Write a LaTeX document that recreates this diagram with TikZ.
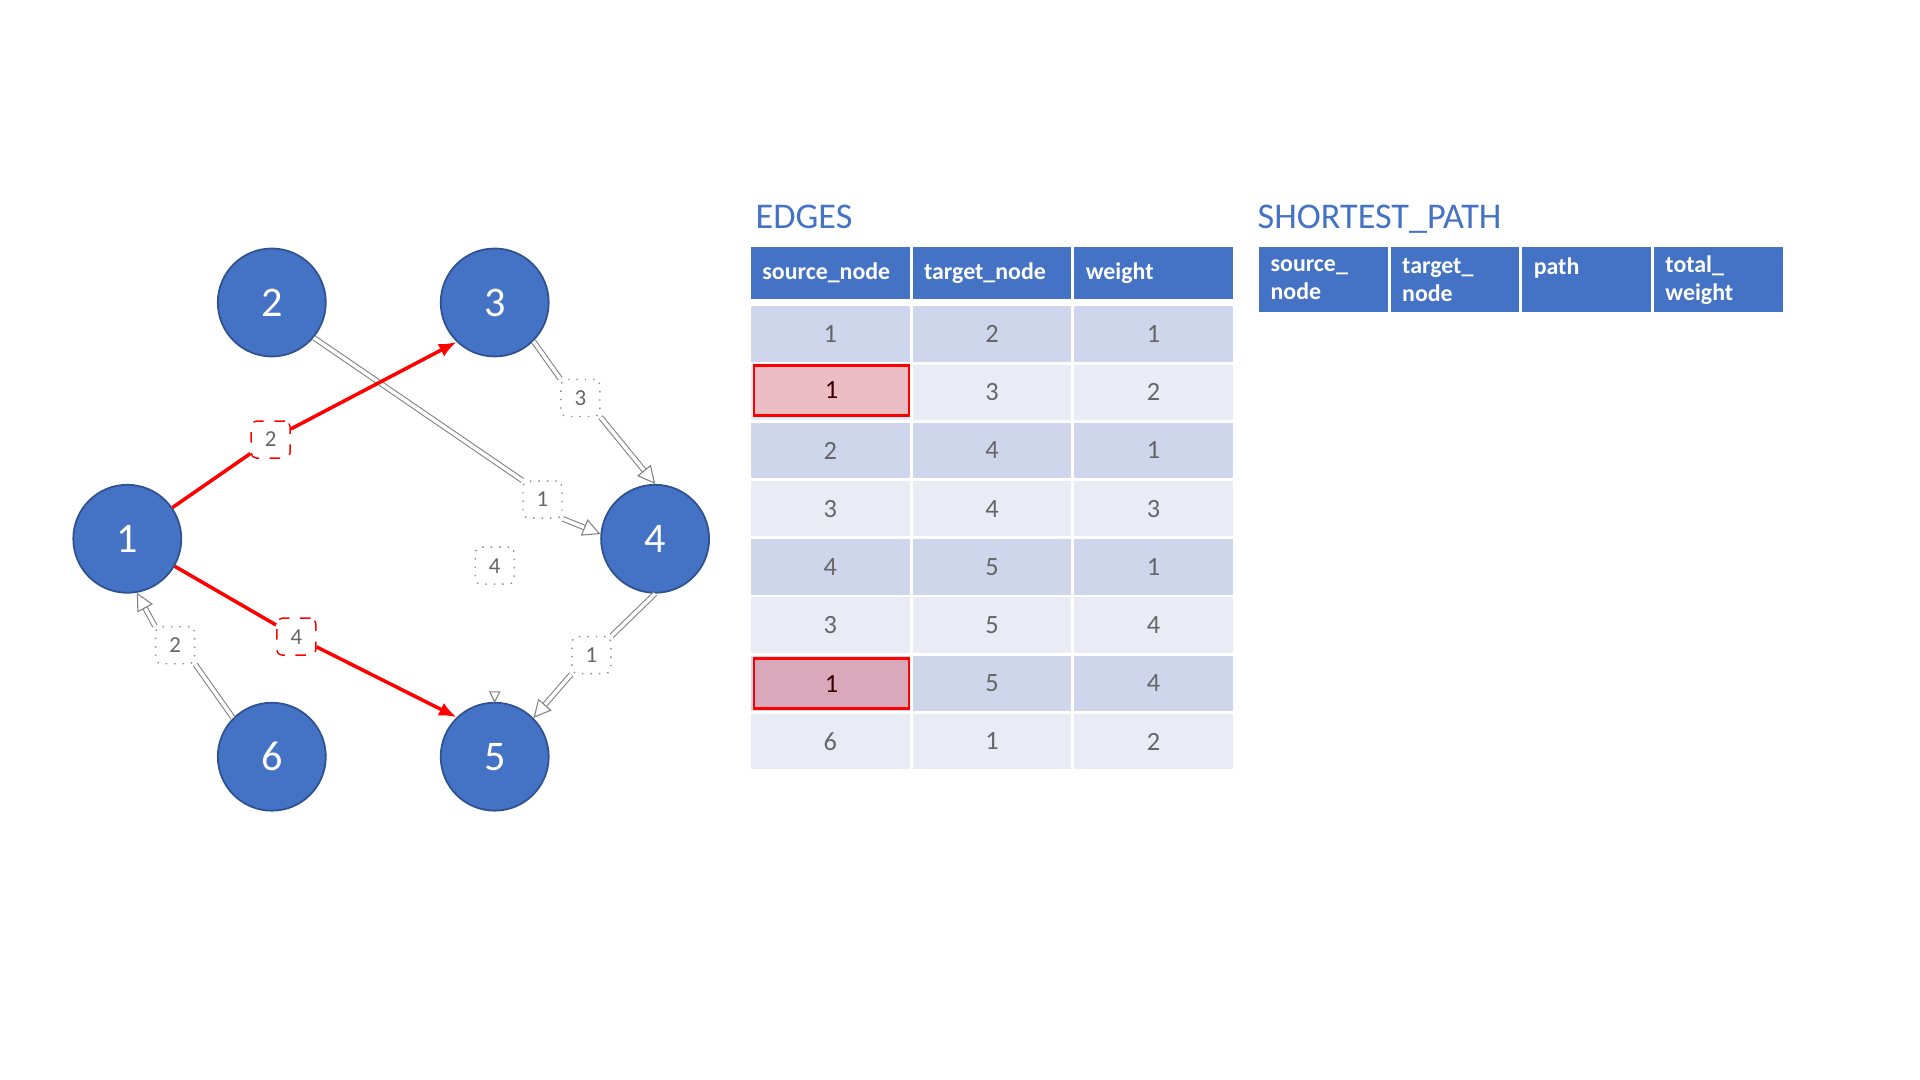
\documentclass[tikz,border=0pt]{standalone}
\usepackage{fontspec}
\setmainfont{Carlito}
\usetikzlibrary{arrows.meta}

\definecolor{nodeblue}{HTML}{4472C4}
\definecolor{nodeedge}{HTML}{2F528F}
\definecolor{rowdark}{HTML}{CFD5EA}
\definecolor{rowlight}{HTML}{E9EBF5}
\definecolor{pickpink}{HTML}{EDBDC5}
\definecolor{pickrose}{HTML}{D9A9BB}
\definecolor{picktext}{HTML}{3C0000}

\tikzset{
  vertex/.style={circle, fill=nodeblue, draw=nodeedge, line width=0.5pt,
    minimum size=1.08cm, inner sep=0pt, text=white,
    font=\fontsize{12}{14}\selectfont},
  redlbl/.style={draw=red, dashed, rounded corners=1.5pt, fill=white,
    minimum width=0.39cm, minimum height=0.37cm, inner sep=0pt,
    text=black!60, font=\fontsize{6.5}{7}\selectfont},
  greylbl/.style={redlbl, draw=black!45, dotted},
  redpath/.style={red, line width=1pt, -{Latex[length=5pt,width=4pt]}},
  ghost/.style={draw=black!50, double=white, double distance=1pt,
    line width=0.3pt, -{Triangle[open,length=5pt,width=5pt]}},
  cell/.style={draw=white, line width=0.8pt, minimum width=1.617cm,
    minimum height=0.582cm, inner sep=0pt, text=black!60,
    font=\fontsize{7.5}{9}\selectfont},
  oddrow/.style={cell, fill=rowdark},
  evenrow/.style={cell, fill=rowlight},
  headcell/.style={draw=white, line width=0.8pt, fill=nodeblue, text=white,
    font=\bfseries\fontsize{6.8}{8}\selectfont, text width=1.357cm,
    inner xsep=0.13cm, inner ysep=0pt, align=left, minimum height=0.54cm},
  sphead/.style={headcell, text width=1.056cm, minimum height=0.674cm},
  pick/.style={draw=red, line width=0.8pt, minimum width=1.55cm,
    minimum height=0.5cm, inner sep=0pt, text=picktext,
    font=\fontsize{7.5}{9}\selectfont},
  title/.style={anchor=base west, inner sep=0pt, text=nodeblue,
    font=\fontsize{10.3}{12}\selectfont}
}

\begin{document}
\begin{tikzpicture}
  \useasboundingbox (0,0) rectangle (19.2,10.8);

  % graph
  \begin{scope}
    \node[vertex] (n1) at (1.273,5.412) {1};
    \node[vertex] (n2) at (2.718,7.775) {2};
    \node[vertex] (n3) at (4.947,7.775) {3};
    \node[vertex] (n4) at (6.551,5.412) {4};
    \node[vertex] (n5) at (4.947,3.233) {5};
    \node[vertex] (n6) at (2.718,3.233) {6};

    \node[redlbl] (w13) at (2.706,6.404) {2};
    \node[redlbl] (w15) at (2.963,4.433) {4};
    \node[greylbl] (w34) at (5.804,6.820) {3};
    \node[greylbl] (w24) at (5.425,5.804) {1};
    \node[greylbl] (w35) at (4.947,5.143) {4};
    \node[greylbl] (w45) at (5.914,4.249) {1};
    \node[greylbl] (w61) at (1.751,4.347) {2};

    \draw[ghost] (n2.-40) -- (w24.north west) (w24.south east) -- (n4.175);
    \draw[ghost] (n3.-45) -- (w34.north west) (w34.south east) -- (n4.north);
    \draw[ghost] (n4.-90) -- (w45.north east) (w45.south west) -- (n5.45);
    \draw[ghost] (n6.135) -- (w61.south east) (w61.north west) -- (n1.-80);
    \draw[black!50, line width=0.3pt] (n5.north) ++(-0.05,0.1) -- ++(0.1,0) -- (n5.north) -- cycle;

    \draw[redpath] (n1) -- (w13) -- (n3.226);
    \draw[redpath] (n1) -- (w15) -- (n5.134);
  \end{scope}

  % EDGES table
  \begin{scope}
    \node[title] (edgestitle) at (7.55,8.51) {EDGES};
    \node[headcell] (h1) at (8.3025,8.07) {source\_node};
    \node[headcell] (h2) at (9.9195,8.07) {target\_node};
    \node[headcell] (h3) at (11.5365,8.07) {weight};

    \node[oddrow] (e11) at (8.3025,7.459) {1};
    \node[oddrow] (e12) at (9.9195,7.459) {2};
    \node[oddrow] (e13) at (11.5365,7.459) {1};

    \node[evenrow] (e21) at (8.3025,6.877) {};
    \node[evenrow] (e22) at (9.9195,6.877) {3};
    \node[evenrow] (e23) at (11.5365,6.877) {2};

    \node[oddrow] (e31) at (8.3025,6.295) {2};
    \node[oddrow] (e32) at (9.9195,6.295) {4};
    \node[oddrow] (e33) at (11.5365,6.295) {1};

    \node[evenrow] (e41) at (8.3025,5.713) {3};
    \node[evenrow] (e42) at (9.9195,5.713) {4};
    \node[evenrow] (e43) at (11.5365,5.713) {3};

    \node[oddrow] (e51) at (8.3025,5.131) {4};
    \node[oddrow] (e52) at (9.9195,5.131) {5};
    \node[oddrow] (e53) at (11.5365,5.131) {1};

    \node[evenrow] (e61) at (8.3025,4.549) {3};
    \node[evenrow] (e62) at (9.9195,4.549) {5};
    \node[evenrow] (e63) at (11.5365,4.549) {4};

    \node[oddrow] (e71) at (8.3025,3.967) {};
    \node[oddrow] (e72) at (9.9195,3.967) {5};
    \node[oddrow] (e73) at (11.5365,3.967) {4};

    \node[evenrow] (e81) at (8.3025,3.385) {6};
    \node[evenrow] (e82) at (9.9195,3.385) {1};
    \node[evenrow] (e83) at (11.5365,3.385) {2};

    \node[pick, fill=pickpink] (pick2) at (8.315,6.895) {1};
    \node[pick, fill=pickrose] (pick7) at (8.315,3.962) {1};
  \end{scope}

  % SHORTEST_PATH table
  \begin{scope}
    \node[title] (sptitle) at (12.57,8.51) {SHORTEST\_PATH};
    \node[sphead] (s1) at (13.234,8.002) {source\_\\node};
    \node[sphead] (s2) at (14.550,8.002) {target\_\\node};
    \node[sphead] (s3) at (15.866,8.002) {path\\~};
    \node[sphead] (s4) at (17.182,8.002) {total\_\\weight};
  \end{scope}
\end{tikzpicture}
\end{document}
